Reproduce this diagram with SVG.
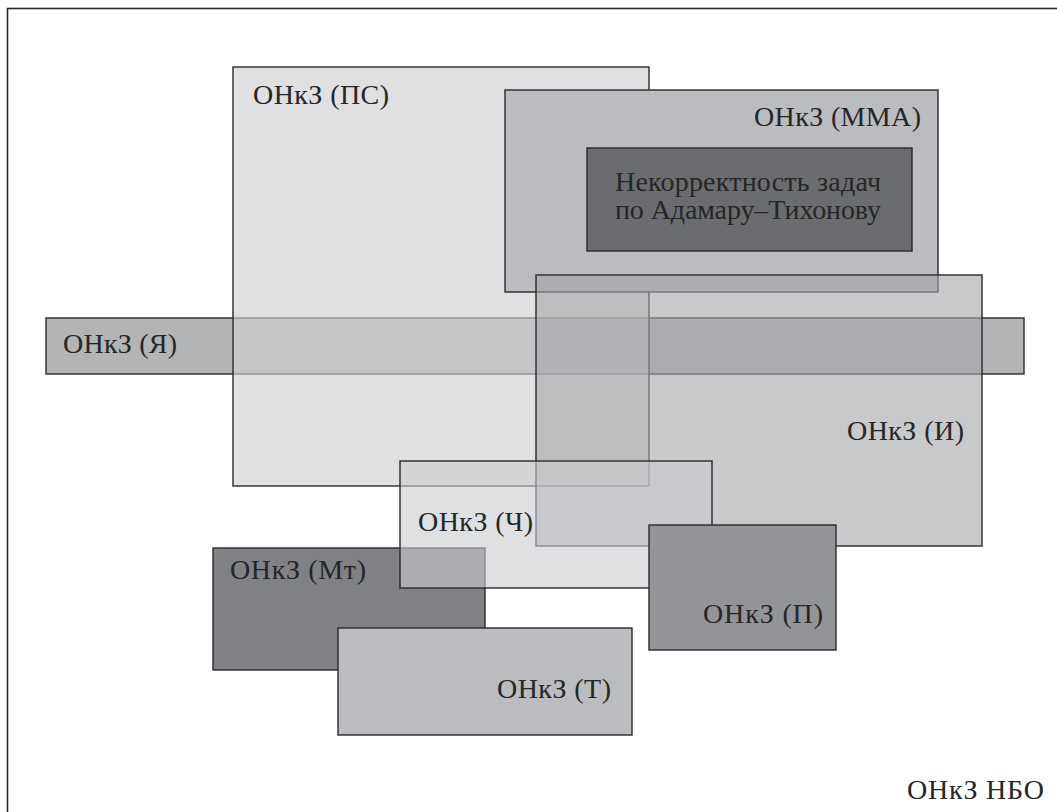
<svg xmlns="http://www.w3.org/2000/svg" width="1057" height="812" viewBox="0 0 1057 812">
<style>
rect{stroke:#2a2a2a;stroke-width:1.4}
text{font-family:"Liberation Serif","DejaVu Serif",serif;font-size:28px;fill:#262626}
</style>
<rect x="0" y="0" width="1057" height="812" fill="#ffffff" style="stroke:none"/>
<g id="frame"><rect x="7.5" y="8.5" width="1100" height="850" fill="none" style="stroke-width:1.6"/></g>
<g id="Ya"><rect x="46" y="318" width="978" height="56" fill="#b3b4b6"/><text x="63" y="353" textLength="114" lengthAdjust="spacing">ОНкЗ (Я)</text></g>
<g id="PS"><rect x="233" y="67" width="416" height="419" fill="rgb(206,207,209)" fill-opacity="0.64"/><text x="253" y="104" textLength="136" lengthAdjust="spacing">ОНкЗ (ПС)</text></g>
<g id="MMA"><rect x="505" y="90" width="433" height="202" fill="#bbbcbf"/><text x="754" y="126" textLength="167" lengthAdjust="spacing">ОНкЗ (ММА)</text></g>
<g id="Nekorr"><rect x="587" y="148" width="325" height="103" fill="#6b6c70"/><text x="615" y="191" textLength="266" lengthAdjust="spacing">Некорректность задач</text><text x="615" y="219" textLength="266" lengthAdjust="spacing">по Адамару–Тихонову</text></g>
<g id="I"><rect x="536" y="275" width="446" height="271" fill="rgb(164,165,168)" fill-opacity="0.6"/><text x="847" y="440" textLength="117" lengthAdjust="spacing">ОНкЗ (И)</text></g>
<g id="Mt"><rect x="213" y="548" width="272" height="122" fill="#808184"/><text x="230" y="579" textLength="136" lengthAdjust="spacing">ОНкЗ (Мт)</text></g>
<g id="Ch"><rect x="400" y="461" width="312" height="127" fill="rgb(202,203,206)" fill-opacity="0.6"/><text x="418" y="531" textLength="115" lengthAdjust="spacing">ОНкЗ (Ч)</text></g>
<g id="T"><rect x="338" y="628" width="294" height="107" fill="#bbbcbf"/><text x="497" y="698" textLength="114" lengthAdjust="spacing">ОНкЗ (Т)</text></g>
<g id="P"><rect x="649" y="525" width="187" height="125" fill="#939497"/><text x="703" y="623" textLength="120" lengthAdjust="spacing">ОНкЗ (П)</text></g>
<g id="NBO"><text x="907" y="799" textLength="137" lengthAdjust="spacing">ОНкЗ НБО</text></g>
<g id="connectors"></g>
</svg>
